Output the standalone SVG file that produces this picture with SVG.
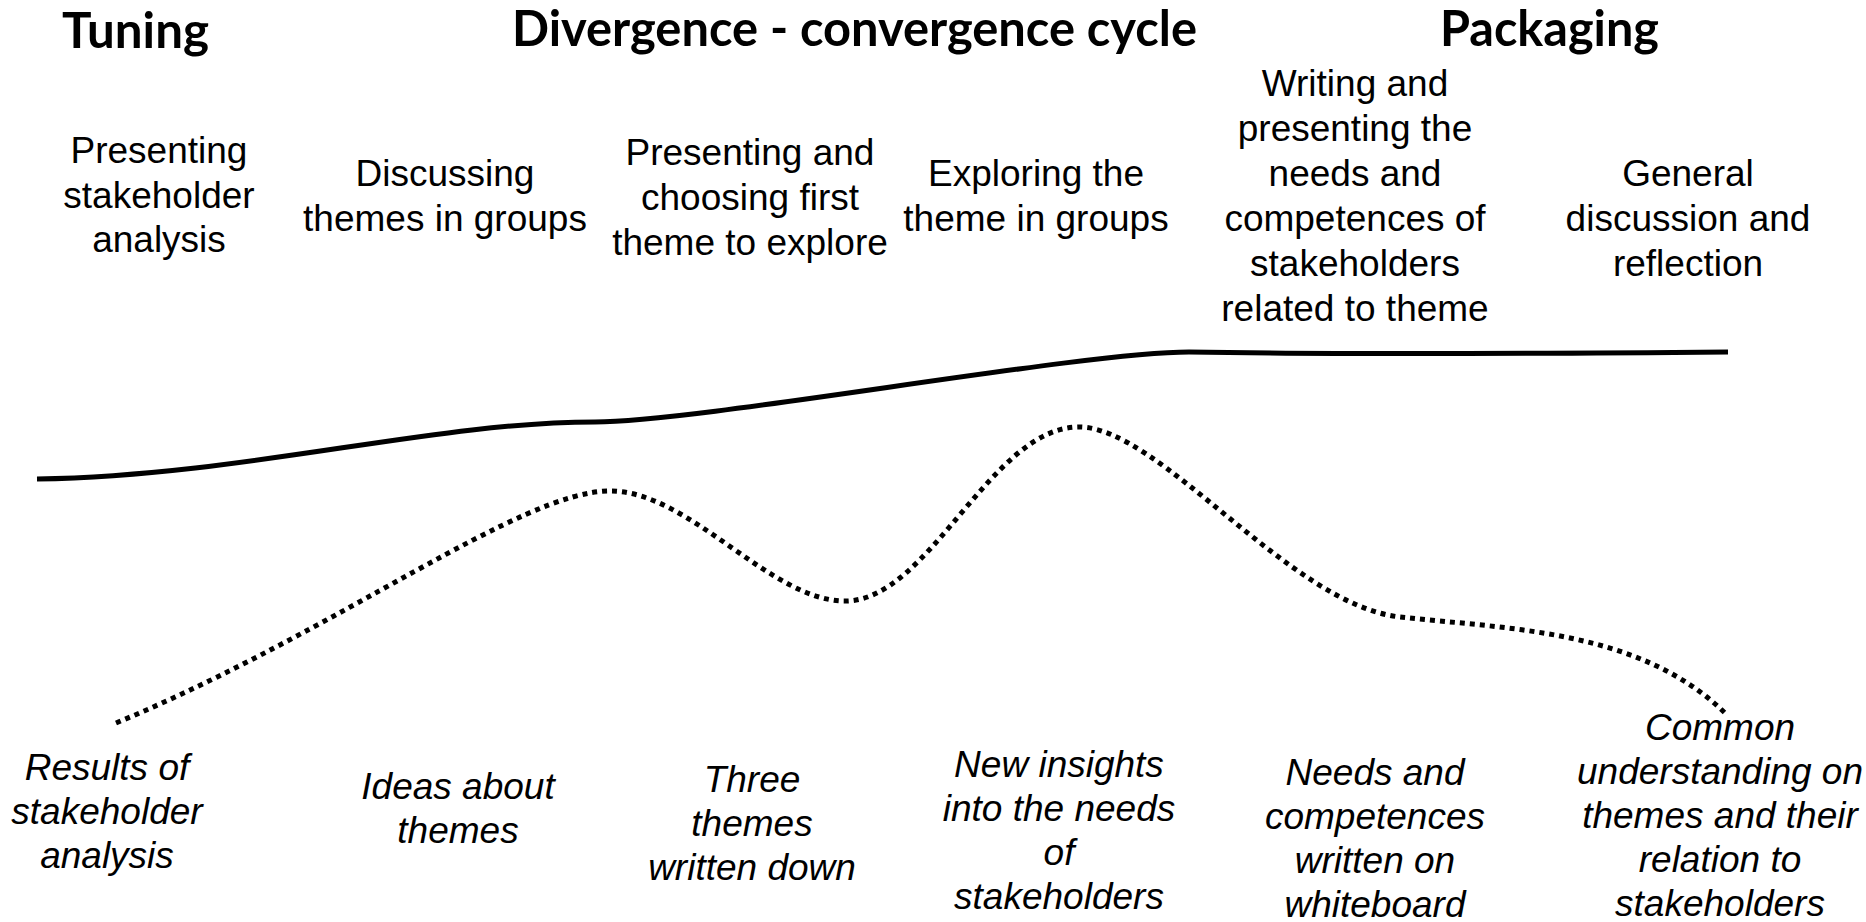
<svg xmlns="http://www.w3.org/2000/svg" width="1866" height="922" viewBox="0 0 1866 922">
<style>
.title{font-family:Lato,"Open Sans",sans-serif;font-weight:700;font-size:49px;fill:#000}
.step{font-family:"Liberation Sans",Arial,sans-serif;font-size:37px;fill:#000;text-anchor:middle}
.out{font-family:"Liberation Sans",Arial,sans-serif;font-size:37px;font-style:italic;fill:#000;text-anchor:middle}
.solid{fill:none;stroke:#000;stroke-width:5;stroke-linecap:butt}
.dotted{fill:none;stroke:#000;stroke-width:5;stroke-dasharray:5 5}
</style>
<rect width="1866" height="922" fill="#fff"/>
<g id="titles">
<text class="title" x="62" y="48" textLength="147" lengthAdjust="spacingAndGlyphs">Tuning</text>
<text class="title" x="512" y="46" textLength="685" lengthAdjust="spacingAndGlyphs">Divergence - convergence cycle</text>
<text class="title" x="1440" y="46" textLength="219" lengthAdjust="spacingAndGlyphs">Packaging</text>
</g>
<g id="step1"><text class="step"><tspan x="159" y="163">Presenting</tspan><tspan x="159" y="208">stakeholder</tspan><tspan x="159" y="252">analysis</tspan></text></g>
<g id="step2"><text class="step"><tspan x="445" y="186">Discussing</tspan><tspan x="445" y="231">themes in groups</tspan></text></g>
<g id="step3"><text class="step"><tspan x="750" y="165">Presenting and</tspan><tspan x="750" y="210">choosing first</tspan><tspan x="750" y="255">theme to explore</tspan></text></g>
<g id="step4"><text class="step"><tspan x="1036" y="186">Exploring the</tspan><tspan x="1036" y="231">theme in groups</tspan></text></g>
<g id="step5"><text class="step"><tspan x="1355" y="96">Writing and</tspan><tspan x="1355" y="141">presenting the</tspan><tspan x="1355" y="186">needs and</tspan><tspan x="1355" y="231">competences of</tspan><tspan x="1355" y="276">stakeholders</tspan><tspan x="1355" y="321">related to theme</tspan></text></g>
<g id="step6"><text class="step"><tspan x="1688" y="186">General</tspan><tspan x="1688" y="231">discussion and</tspan><tspan x="1688" y="276">reflection</tspan></text></g>
<g id="connectors">
<path class="solid" d="M37,479 C250,475 430,422 595,422 C700,422 1080,352 1189,352 C1300,354 1500,354 1728,352"/>
<path class="dotted" d="M116,723 C340,630 520,491 610,491 C690,491 770,601 845,601 C930,601 990,427 1079,427 C1160,427 1290,605 1400,617 C1510,629 1640,630 1725,713"/>
</g>
<g id="out1"><text class="out"><tspan x="107" y="780">Results of</tspan><tspan x="107" y="824">stakeholder</tspan><tspan x="107" y="868">analysis</tspan></text></g>
<g id="out2"><text class="out"><tspan x="458" y="799">Ideas about</tspan><tspan x="458" y="843">themes</tspan></text></g>
<g id="out3"><text class="out"><tspan x="752" y="792">Three</tspan><tspan x="752" y="836">themes</tspan><tspan x="752" y="880">written down</tspan></text></g>
<g id="out4"><text class="out"><tspan x="1059" y="777">New insights</tspan><tspan x="1059" y="821">into the needs</tspan><tspan x="1059" y="865">of</tspan><tspan x="1059" y="909">stakeholders</tspan></text></g>
<g id="out5"><text class="out"><tspan x="1375" y="785">Needs and</tspan><tspan x="1375" y="829">competences</tspan><tspan x="1375" y="873">written on</tspan><tspan x="1375" y="917">whiteboard</tspan></text></g>
<g id="out6"><text class="out"><tspan x="1720" y="740">Common</tspan><tspan x="1720" y="784">understanding on</tspan><tspan x="1720" y="828">themes and their</tspan><tspan x="1720" y="872">relation to</tspan><tspan x="1720" y="916">stakeholders</tspan></text></g>
</svg>
